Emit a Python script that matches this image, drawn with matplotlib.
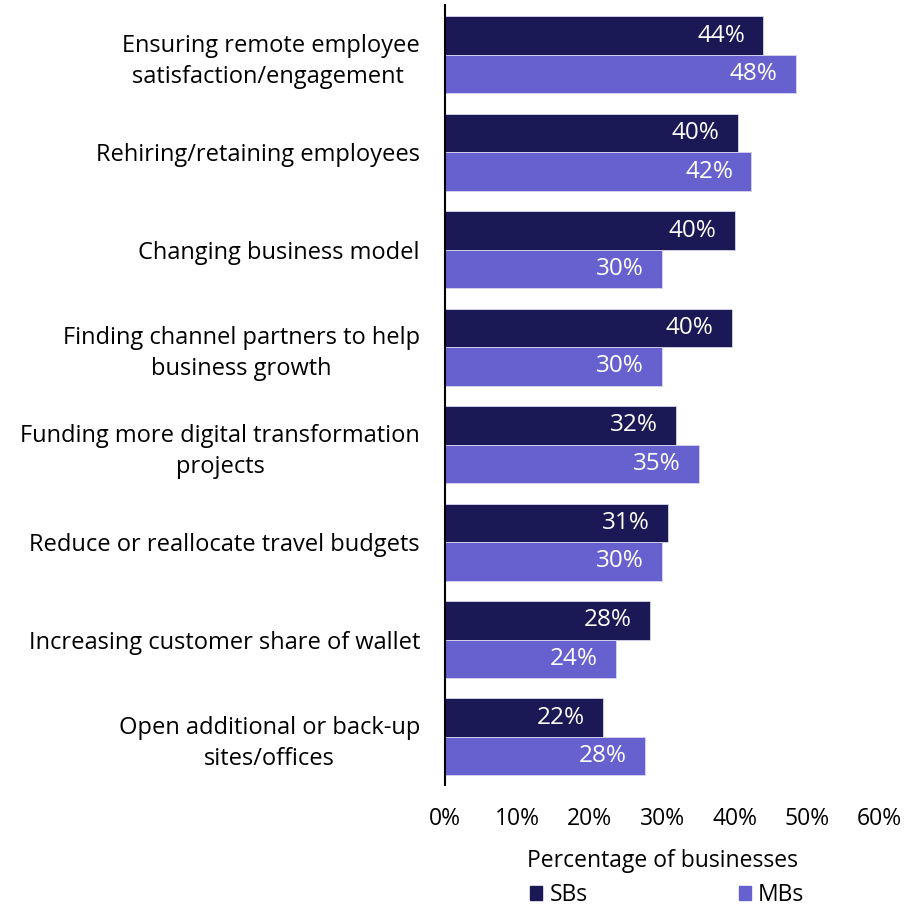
import matplotlib
matplotlib.use("Agg")
import matplotlib.pyplot as plt
from matplotlib.patches import Patch
import numpy as np

categories = [
    "Ensuring remote employee\nsatisfaction/engagement ",
    "Rehiring/retaining employees",
    "Changing business model",
    "Finding channel partners to help\nbusiness growth",
    "Funding more digital transformation\nprojects",
    "Reduce or reallocate travel budgets",
    "Increasing customer share of wallet",
    "Open additional or back-up\nsites/offices",
]
sbs = [43.9, 40.4, 40.0, 39.6, 31.9, 30.8, 28.3, 21.8]
mbs = [48.4, 42.3, 29.9, 29.9, 35.0, 29.9, 23.6, 27.6]
sbs_labels = ["44%", "40%", "40%", "40%", "32%", "31%", "28%", "22%"]
mbs_labels = ["48%", "42%", "30%", "30%", "35%", "30%", "24%", "28%"]
xticks = [0, 10, 20, 30, 40, 50, 60]

SB_COLOR = "#1b1856"
MB_COLOR = "#6761d0"
FONT = "Open Sans"

plt.rcParams["font.family"] = [FONT, "DejaVu Sans"]

fig = plt.figure(figsize=(9.24, 9.06), dpi=100)
ax = fig.add_axes([0.4816, 0.1336, 0.952 - 0.4816, 0.9945 - 0.1336])

y = np.arange(len(categories))
h = 0.395
b1 = ax.barh(y - h / 2, sbs, height=h, color=SB_COLOR, edgecolor="#d8d6ee", linewidth=0.6)
b2 = ax.barh(y + h / 2, mbs, height=h, color=MB_COLOR, edgecolor="#d8d6ee", linewidth=0.6)

for bars, labels in ((b1, sbs_labels), (b2, mbs_labels)):
    for rect, lab in zip(bars, labels):
        ax.annotate(lab, (rect.get_width(), rect.get_y() + rect.get_height() / 2),
                    xytext=(-13, 0), textcoords="offset points",
                    ha="right", va="center", color="white", fontsize=17.5)

ax.set_ylim(len(categories) - 1 + 0.493, -0.513)
ax.set_xlim(0, 60)
ax.set_yticks(y)
ax.set_yticklabels(categories, fontsize=17, ha="right", multialignment="center",
                   linespacing=1.4)
ax.set_xticks(xticks)
ax.set_xticklabels([f"{t}%" for t in xticks], fontsize=16.5)
ax.tick_params(axis="y", length=0, pad=18)
ax.tick_params(axis="x", length=0, pad=16)
for s in ("top", "right", "bottom"):
    ax.spines[s].set_visible(False)
ax.spines["left"].set_color("black")
ax.spines["left"].set_linewidth(1.5)
ax.set_xlabel("Percentage of businesses", fontsize=16.5, labelpad=13)

handles = [Patch(color=SB_COLOR), Patch(color=MB_COLOR)]
fig.legend(handles, ["SBs", "MBs"], loc="center", bbox_to_anchor=(0.722, 0.012),
           ncol=2, frameon=False, fontsize=16.5, handlelength=0.55, handleheight=0.55,
           handletextpad=0.3, columnspacing=6.6)

fig.savefig("out.png", dpi=100)
